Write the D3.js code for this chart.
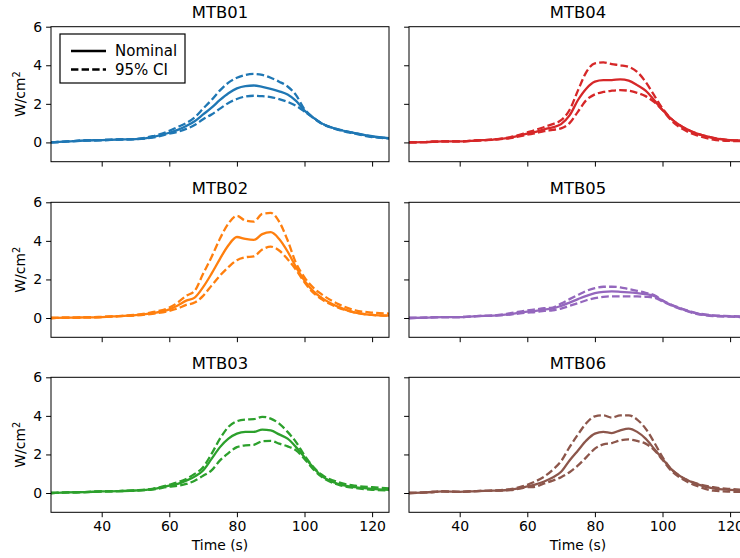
<!DOCTYPE html>
<html>
<head>
<meta charset="utf-8">
<script src="https://cdn.jsdelivr.net/npm/d3@7"></script>
<style>
  body { margin: 0; background: #fff; }
  text { font-family: "DejaVu Sans", sans-serif; fill: #000; }
</style>
</head>
<body>
<div id="chart"></div>
<script>
var svgWidth = 740;
var svgHeight = 558;

// time axis shared by every panel (s)
var times = [25, 30, 35, 40, 45, 50, 55, 60, 62.5, 65, 67.5, 70, 72.5, 75, 77.5, 80, 82.5, 85, 87.5, 90, 92.5, 95, 97.5, 100, 102.5, 105, 110, 115, 120, 125];

// heat flux, W/cm^2
var mtb01Nominal = [0.0, 0.05, 0.1, 0.12, 0.15, 0.17, 0.28, 0.5, 0.65, 0.85, 1.1, 1.45, 1.8, 2.2, 2.55, 2.8, 2.92, 2.95, 2.88, 2.78, 2.65, 2.48, 2.15, 1.65, 1.3, 1.0, 0.67, 0.48, 0.32, 0.22];
var mtb01Upper   = [0.0, 0.05, 0.1, 0.12, 0.15, 0.18, 0.32, 0.6, 0.8, 1.0, 1.3, 1.75, 2.2, 2.7, 3.1, 3.35, 3.5, 3.55, 3.5, 3.35, 3.15, 2.9, 2.45, 1.72, 1.3, 1.0, 0.65, 0.45, 0.28, 0.2];
var mtb01Lower   = [0.0, 0.05, 0.1, 0.12, 0.15, 0.17, 0.25, 0.45, 0.55, 0.7, 0.9, 1.2, 1.45, 1.75, 2.05, 2.25, 2.38, 2.42, 2.4, 2.35, 2.25, 2.1, 1.9, 1.6, 1.28, 0.98, 0.68, 0.48, 0.3, 0.22];

var mtb02Nominal = [0.0, 0.02, 0.03, 0.05, 0.1, 0.15, 0.25, 0.45, 0.65, 0.9, 1.06, 1.6, 2.3, 3.07, 3.77, 4.2, 4.1, 4.05, 4.35, 4.45, 4.1, 3.45, 2.64, 1.94, 1.41, 1.06, 0.58, 0.28, 0.16, 0.12];
var mtb02Upper   = [0.0, 0.02, 0.03, 0.06, 0.1, 0.17, 0.3, 0.54, 0.8, 1.15, 1.41, 2.29, 3.16, 4.12, 4.9, 5.3, 5.05, 5.0, 5.4, 5.45, 5.0, 4.03, 2.85, 2.11, 1.59, 1.24, 0.72, 0.4, 0.28, 0.23];
var mtb02Lower   = [0.0, 0.02, 0.03, 0.05, 0.1, 0.13, 0.22, 0.37, 0.5, 0.68, 0.8, 1.15, 1.68, 2.2, 2.64, 3.0, 3.15, 3.2, 3.55, 3.7, 3.5, 3.05, 2.5, 1.85, 1.33, 0.98, 0.54, 0.28, 0.16, 0.12];

var mtb03Nominal = [0.0, 0.03, 0.05, 0.08, 0.1, 0.13, 0.2, 0.38, 0.47, 0.64, 0.85, 1.17, 1.77, 2.38, 2.82, 3.08, 3.17, 3.17, 3.29, 3.25, 3.04, 2.82, 2.38, 1.86, 1.34, 0.9, 0.47, 0.3, 0.21, 0.16];
var mtb03Upper   = [0.0, 0.03, 0.05, 0.08, 0.1, 0.14, 0.22, 0.43, 0.56, 0.73, 0.99, 1.34, 2.03, 2.82, 3.43, 3.72, 3.81, 3.83, 3.95, 3.86, 3.6, 3.17, 2.64, 1.95, 1.37, 0.96, 0.56, 0.38, 0.3, 0.24];
var mtb03Lower   = [0.0, 0.03, 0.05, 0.08, 0.1, 0.12, 0.18, 0.33, 0.38, 0.47, 0.64, 0.9, 1.17, 1.69, 2.07, 2.38, 2.47, 2.5, 2.68, 2.7, 2.56, 2.42, 2.21, 1.77, 1.25, 0.85, 0.43, 0.26, 0.17, 0.14];

var mtb04Nominal = [0.0, 0.02, 0.05, 0.05, 0.1, 0.15, 0.25, 0.45, 0.55, 0.68, 0.78, 0.95, 1.4, 2.2, 2.8, 3.15, 3.23, 3.23, 3.27, 3.2, 2.97, 2.68, 2.2, 1.68, 1.24, 0.9, 0.47, 0.24, 0.12, 0.1];
var mtb04Upper   = [0.0, 0.02, 0.05, 0.05, 0.1, 0.15, 0.28, 0.52, 0.65, 0.8, 0.95, 1.15, 1.68, 2.7, 3.66, 4.1, 4.15, 4.06, 4.0, 3.92, 3.66, 3.14, 2.45, 1.76, 1.24, 0.9, 0.47, 0.24, 0.12, 0.1];
var mtb04Lower   = [0.0, 0.02, 0.05, 0.05, 0.1, 0.15, 0.22, 0.4, 0.48, 0.58, 0.65, 0.73, 1.0, 1.6, 2.2, 2.49, 2.62, 2.68, 2.71, 2.68, 2.57, 2.4, 2.1, 1.68, 1.16, 0.8, 0.38, 0.15, 0.08, 0.06];

var mtb05Nominal = [0.0, 0.02, 0.05, 0.05, 0.1, 0.12, 0.2, 0.33, 0.37, 0.45, 0.49, 0.63, 0.8, 0.98, 1.15, 1.29, 1.36, 1.38, 1.36, 1.33, 1.29, 1.24, 1.15, 0.89, 0.68, 0.51, 0.24, 0.12, 0.09, 0.05];
var mtb05Upper   = [0.0, 0.02, 0.05, 0.05, 0.1, 0.13, 0.25, 0.4, 0.45, 0.51, 0.54, 0.75, 0.98, 1.2, 1.41, 1.55, 1.62, 1.62, 1.59, 1.5, 1.41, 1.31, 1.19, 0.92, 0.7, 0.53, 0.26, 0.14, 0.1, 0.06];
var mtb05Lower   = [0.0, 0.02, 0.05, 0.05, 0.1, 0.12, 0.18, 0.28, 0.31, 0.37, 0.4, 0.49, 0.63, 0.77, 0.92, 1.03, 1.1, 1.12, 1.12, 1.12, 1.12, 1.1, 1.06, 0.86, 0.66, 0.49, 0.22, 0.1, 0.07, 0.04];

var mtb06Nominal = [0.0, 0.03, 0.08, 0.06, 0.1, 0.12, 0.17, 0.35, 0.45, 0.6, 0.8, 1.1, 1.69, 2.21, 2.73, 3.08, 3.17, 3.11, 3.25, 3.34, 3.17, 2.82, 2.3, 1.77, 1.25, 0.9, 0.47, 0.24, 0.16, 0.12];
var mtb06Upper   = [0.0, 0.03, 0.08, 0.06, 0.1, 0.13, 0.2, 0.43, 0.61, 0.85, 1.2, 1.65, 2.38, 3.04, 3.63, 3.98, 4.03, 3.91, 4.03, 4.03, 3.81, 3.34, 2.64, 1.86, 1.25, 0.9, 0.5, 0.3, 0.21, 0.16];
var mtb06Lower   = [0.0, 0.03, 0.08, 0.06, 0.1, 0.12, 0.15, 0.3, 0.33, 0.5, 0.64, 0.82, 1.08, 1.43, 1.86, 2.3, 2.52, 2.59, 2.73, 2.78, 2.7, 2.56, 2.24, 1.72, 1.17, 0.82, 0.38, 0.12, 0.07, 0.05];

var panelNames = ["MTB01", "MTB02", "MTB03", "MTB04", "MTB05", "MTB06"];
var xTicks = [40, 60, 80, 100, 120];
var yTicks = [0, 2, 4, 6];
var legendLabels = ["Nominal", "95% CI"];

var panelColors = ["#1f77b4", "#ff7f0e", "#2ca02c", "#d62728", "#9467bd", "#8c564b"];

var panels = [
  { nominal: mtb01Nominal, upper: mtb01Upper, lower: mtb01Lower },
  { nominal: mtb02Nominal, upper: mtb02Upper, lower: mtb02Lower },
  { nominal: mtb03Nominal, upper: mtb03Upper, lower: mtb03Lower },
  { nominal: mtb04Nominal, upper: mtb04Upper, lower: mtb04Lower },
  { nominal: mtb05Nominal, upper: mtb05Upper, lower: mtb05Lower },
  { nominal: mtb06Nominal, upper: mtb06Upper, lower: mtb06Lower }
];

// grid geometry (figure is cropped on the right, like the original)
var colLeft = [51, 409];
var rowTop = [26.7, 202.3, 377.3];
var panelWidth = 338;
var panelHeight = 135;

var svg = d3.select("#chart")
  .append("svg")
  .attr("width", svgWidth)
  .attr("height", svgHeight);

var xScale = d3.scaleLinear().domain([25, 125]).range([0, panelWidth]);
var yScale = d3.scaleLinear().domain([-1, 6]).range([panelHeight, 0]);

var line = d3.line()
  .x(function(d) { return xScale(d[0]); })
  .y(function(d) { return yScale(d[1]); })
  .curve(d3.curveMonotoneX);

panels.forEach(function(p, i) {
  var col = Math.floor(i / 3);
  var row = i % 3;
  var color = panelColors[i];

  var g = svg.append("g")
    .attr("transform", `translate(${colLeft[col]}, ${rowTop[row]})`);

  g.append("clipPath")
    .attr("id", "clip" + i)
    .append("rect")
    .attr("width", panelWidth)
    .attr("height", panelHeight);

  var plot = g.append("g").attr("clip-path", `url(#clip${i})`);

  [["nominal", null], ["upper", "7.6,3.2"], ["lower", "7.6,3.2"]].forEach(function(s) {
    var pts = times.map(function(t, k) { return [t, p[s[0]][k]]; });
    plot.append("path")
      .datum(pts)
      .attr("fill", "none")
      .attr("stroke", color)
      .attr("stroke-width", 2.3)
      .attr("stroke-dasharray", s[1])
      .attr("d", line);
  });

  // axes
  var bottomAxis = d3.axisBottom(xScale).tickValues(xTicks).tickSize(4.9).tickPadding(4).tickFormat(d3.format("d"));
  var leftAxis = d3.axisLeft(yScale).tickValues(yTicks).tickSize(4.9).tickPadding(4).tickFormat(d3.format("d"));
  if (row < 2) bottomAxis.tickFormat("");
  if (col > 0) leftAxis.tickFormat("");

  var ax = g.append("g")
    .attr("transform", `translate(0, ${panelHeight})`)
    .call(bottomAxis);
  var ay = g.append("g").call(leftAxis);

  [ax, ay].forEach(function(a) {
    a.select(".domain").remove();
    a.selectAll("line").attr("stroke", "#000").attr("stroke-width", 1);
    a.selectAll("text")
      .style("font-family", "DejaVu Sans, sans-serif")
      .style("font-size", "14px")
      .attr("fill", "#000");
  });

  // frame
  g.append("rect")
    .attr("width", panelWidth)
    .attr("height", panelHeight)
    .attr("fill", "none")
    .attr("stroke", "#000")
    .attr("stroke-width", 1);

  g.append("text")
    .attr("x", panelWidth / 2)
    .attr("y", -8.3)
    .attr("text-anchor", "middle")
    .style("font-size", "16.4px")
    .text(panelNames[i]);

  if (col === 0) {
    var yl = g.append("text")
      .attr("transform", `translate(${25 - colLeft[0]}, ${panelHeight / 2}) rotate(-90)`)
      .attr("text-anchor", "middle")
      .style("font-size", "13.9px");
    yl.append("tspan").text("W/cm");
    yl.append("tspan").attr("dy", -5.5).style("font-size", "9.7px").text("2");
  }

  if (row === 2) {
    g.append("text")
      .attr("x", panelWidth / 2)
      .attr("y", panelHeight + 38)
      .attr("text-anchor", "middle")
      .style("font-size", "13.9px")
      .text("Time (s)");
  }

  if (i === 0) {
    var lg = g.append("g").attr("transform", "translate(9, 7.3)");
    lg.append("rect")
      .attr("width", 125)
      .attr("height", 49)
      .attr("fill", "#fff")
      .attr("stroke", "#000")
      .attr("stroke-width", 1.2);
    legendLabels.forEach(function(lab, k) {
      var yy = 17 + k * 18.5;
      lg.append("line")
        .attr("x1", 11).attr("x2", 46)
        .attr("y1", yy).attr("y2", yy)
        .attr("stroke", "#000")
        .attr("stroke-width", 2.6)
        .attr("stroke-dasharray", k === 0 ? null : "7.4,3.2");
      lg.append("text")
        .attr("x", 55)
        .attr("y", yy + 5)
        .style("font-size", "15px")
        .text(lab);
    });
  }
});
</script>
</body>
</html>
